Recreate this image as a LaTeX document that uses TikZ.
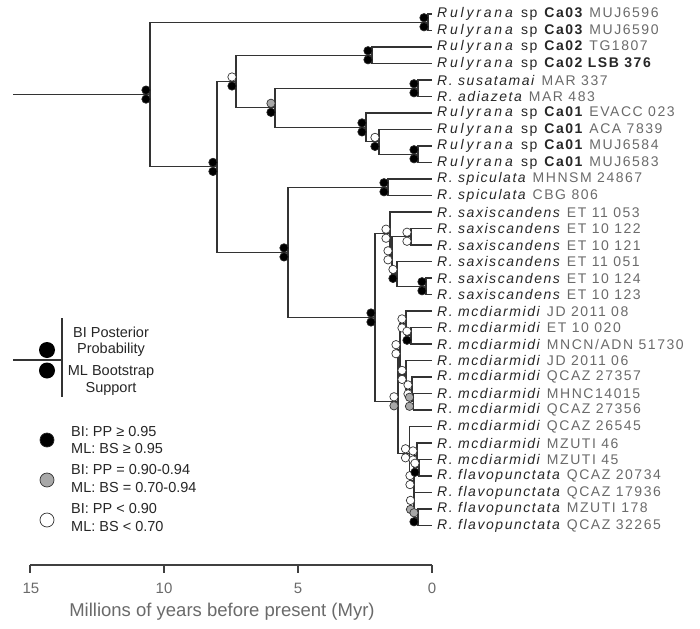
\documentclass[tikz,border=0pt]{standalone}
\usepackage{fontspec}
\setmainfont{Liberation Sans}
\newfontfamily\leaffont[LetterSpace=11]{Liberation Sans}
\definecolor{codegray}{HTML}{6A6A6A}
\definecolor{namecol}{HTML}{262626}
\definecolor{linecol}{HTML}{333333}
\definecolor{supgray}{HTML}{A8A8A8}
\newcommand\spn[1]{\textit{#1}}
\newcommand\genus{\textit{\addfontfeature{LetterSpace=20}Rulyrana}}
\newcommand\leafRu[2]{\genus{} sp \textbf{#1} \textcolor{codegray}{#2}}
\newcommand\leafR[2]{\spn{R. #1} \textcolor{codegray}{#2}}
\newcommand\supnode[4]{%
  \draw[#3] (#1-4,#2-4.5) circle[radius=4.2];
  \draw[#4] (#1-4,#2+4.5) circle[radius=4.2];}
\tikzset{
  br/.style={draw=linecol, line width=1.2pt},
  b/.style={fill=black, draw=black!85, line width=0.7pt},
  g/.style={fill=supgray, draw=linecol, line width=0.7pt},
  w/.style={fill=white, draw=linecol, line width=0.7pt},
  leaf/.style={anchor=west, inner sep=0.5pt, xshift=4.5pt, text=namecol,
    font=\leaffont\fontsize{14}{15}\selectfont},
  legtxt/.style={text=namecol, font=\fontsize{14.5}{17}\selectfont, inner sep=0pt},
  axlab/.style={text=codegray, font=\fontsize{15}{17}\selectfont, inner sep=0pt},
  axline/.style={draw=black!75, line width=1.5pt}
}
\begin{document}
\begin{tikzpicture}[x=1pt,y=-1pt]
\useasboundingbox (0,0) rectangle (700,628);
% leaves
\foreach \i in {1,...,32}{
  \coordinate (L\i) at (432,{14+(\i-1)*16.5});
}
% internal nodes
\coordinate (start) at (13,94.6);
\coordinate (root) at (150,94.6);
\coordinate (ca03) at (428,22.25);
\coordinate (nA) at (217,166.9);
\coordinate (nT2) at (236,81.5);
\coordinate (ca02) at (372,55.25);
\coordinate (nB) at (275,107.8);
\coordinate (susa) at (418,88.25);
\coordinate (ca01) at (366,127.4);
\coordinate (ca01b) at (379,141.9);
\coordinate (muj) at (418,154.25);
\coordinate (nC) at (288,252.4);
\coordinate (spic) at (388,187.25);
\coordinate (nD) at (375,317.5);
\coordinate (s0) at (390,233.7);
\coordinate (s2) at (392,255.3);
\coordinate (s122) at (411,236.75);
\coordinate (s3) at (397,273.9);
\coordinate (s124) at (426,286.25);
\coordinate (m0) at (398,401.3);
\coordinate (m1) at (400,349.2);
\coordinate (m1a) at (406,323.4);
\coordinate (m1d) at (411,335.75);
\coordinate (m1b) at (406,374.9);
\coordinate (m1c) at (412,389.4);
\coordinate (p) at (413.5,401.75);
\coordinate (f0) at (409.5,453.3);
\coordinate (f1) at (414,480.1);
\coordinate (f2) at (417,455.4);
\coordinate (f2b) at (419,467.75);
\coordinate (f3) at (414.5,504.9);
\coordinate (f3b) at (418,517.25);
% branches
\draw[br] (start) -- (root);
\draw[br] (root) |- (ca03);  \draw[br] (root) |- (nA);
\draw[br] (ca03) |- (L1);    \draw[br] (ca03) |- (L2);
\draw[br] (nA) |- (nT2);     \draw[br] (nA) |- (nC);
\draw[br] (nT2) |- (ca02);   \draw[br] (nT2) |- (nB);
\draw[br] (ca02) |- (L3);    \draw[br] (ca02) |- (L4);
\draw[br] (nB) |- (susa);    \draw[br] (nB) |- (ca01);
\draw[br] (susa) |- (L5);    \draw[br] (susa) |- (L6);
\draw[br] (ca01) |- (L7);    \draw[br] (ca01) |- (ca01b);
\draw[br] (ca01b) |- (L8);   \draw[br] (ca01b) |- (muj);
\draw[br] (muj) |- (L9);     \draw[br] (muj) |- (L10);
\draw[br] (nC) |- (spic);    \draw[br] (nC) |- (nD);
\draw[br] (spic) |- (L11);   \draw[br] (spic) |- (L12);
\draw[br] (nD) |- (s0);      \draw[br] (nD) |- (m0);
\draw[br] (s0) |- (L13);     \draw[br] (s0) |- (s2);
\draw[br] (s2) |- (s122);    \draw[br] (s2) |- (s3);
\draw[br] (s122) |- (L14);   \draw[br] (s122) |- (L15);
\draw[br] (s3) |- (L16);     \draw[br] (s3) |- (s124);
\draw[br] (s124) |- (L17);   \draw[br] (s124) |- (L18);
\draw[br] (m0) |- (m1);      \draw[br] (m0) |- (f0);
\draw[br] (m1) |- (m1a);     \draw[br] (m1) |- (m1b);
\draw[br] (m1a) |- (L19);    \draw[br] (m1a) |- (m1d);
\draw[br] (m1d) |- (L20);    \draw[br] (m1d) |- (L21);
\draw[br] (m1b) |- (L22);    \draw[br] (m1b) |- (m1c);
\draw[br] (m1c) |- (L23);    \draw[br] (m1c) |- (p);
\draw[br] (p) |- (L24);      \draw[br] (p) |- (L25);
\draw[br] (f0) |- (L26);     \draw[br] (f0) |- (f1);
\draw[br] (f1) |- (f2);      \draw[br] (f1) |- (f3);
\draw[br] (f2) |- (L27);     \draw[br] (f2) |- (f2b);
\draw[br] (f2b) |- (L28);    \draw[br] (f2b) |- (L29);
\draw[br] (f3) |- (L30);     \draw[br] (f3) |- (f3b);
\draw[br] (f3b) |- (L31);    \draw[br] (f3b) |- (L32);
% support circles
\supnode{150}{94.6}{b}{b}
\supnode{428}{22.25}{b}{b}
\supnode{217}{166.9}{b}{b}
\supnode{236}{81.5}{w}{b}
\supnode{372}{55.25}{b}{b}
\supnode{275}{107.8}{g}{b}
\supnode{418}{88.25}{b}{b}
\supnode{366}{127.4}{b}{b}
\supnode{379}{141.9}{w}{b}
\supnode{418}{154.25}{b}{b}
\supnode{288}{252.4}{b}{b}
\supnode{388}{187.25}{b}{b}
\supnode{375}{317.5}{b}{b}
\supnode{390}{233.7}{w}{w}
\supnode{392}{255.3}{w}{w}
\supnode{411}{236.75}{w}{w}
\supnode{397}{273.9}{w}{b}
\supnode{426}{286.25}{b}{b}
\supnode{398}{401.3}{w}{g}
\supnode{400}{349.2}{w}{w}
\supnode{406}{323.4}{w}{w}
\supnode{411}{335.75}{w}{b}
\supnode{406}{374.9}{w}{w}
\supnode{412}{389.4}{w}{w}
\supnode{413.5}{401.75}{g}{g}
\supnode{409.5}{453.3}{w}{w}
\supnode{414}{480.1}{w}{w}
\supnode{417}{455.4}{w}{w}
\supnode{419}{467.75}{w}{b}
\supnode{414.5}{504.9}{w}{g}
\supnode{418}{517.25}{g}{b}
% leaf labels
\node[leaf] (t1) at (L1) {\leafRu{Ca03}{MUJ6596}};
\node[leaf] (t2) at (L2) {\leafRu{Ca03}{MUJ6590}};
\node[leaf] (t3) at (L3) {\leafRu{Ca02}{TG1807}};
\node[leaf] (t4) at (L4) {\genus{} sp \textbf{Ca02 LSB 376}};
\node[leaf] (t5) at (L5) {\leafR{susatamai}{MAR 337}};
\node[leaf] (t6) at (L6) {\leafR{adiazeta}{MAR 483}};
\node[leaf] (t7) at (L7) {\leafRu{Ca01}{EVACC 023}};
\node[leaf] (t8) at (L8) {\leafRu{Ca01}{ACA 7839}};
\node[leaf] (t9) at (L9) {\leafRu{Ca01}{MUJ6584}};
\node[leaf] (t10) at (L10) {\leafRu{Ca01}{MUJ6583}};
\node[leaf] (t11) at (L11) {\leafR{spiculata}{MHNSM 24867}};
\node[leaf] (t12) at (L12) {\leafR{spiculata}{CBG 806}};
\node[leaf] (t13) at (L13) {\leafR{saxiscandens}{ET 11 053}};
\node[leaf] (t14) at (L14) {\leafR{saxiscandens}{ET 10 122}};
\node[leaf] (t15) at (L15) {\leafR{saxiscandens}{ET 10 121}};
\node[leaf] (t16) at (L16) {\leafR{saxiscandens}{ET 11 051}};
\node[leaf] (t17) at (L17) {\leafR{saxiscandens}{ET 10 124}};
\node[leaf] (t18) at (L18) {\leafR{saxiscandens}{ET 10 123}};
\node[leaf] (t19) at (L19) {\leafR{mcdiarmidi}{JD 2011 08}};
\node[leaf] (t20) at (L20) {\leafR{mcdiarmidi}{ET 10 020}};
\node[leaf] (t21) at (L21) {\leafR{mcdiarmidi}{MNCN/ADN 51730}};
\node[leaf] (t22) at (L22) {\leafR{mcdiarmidi}{JD 2011 06}};
\node[leaf] (t23) at (L23) {\leafR{mcdiarmidi}{QCAZ 27357}};
\node[leaf] (t24) at (L24) {\leafR{mcdiarmidi}{MHNC14015}};
\node[leaf] (t25) at (L25) {\leafR{mcdiarmidi}{QCAZ 27356}};
\node[leaf] (t26) at (L26) {\leafR{mcdiarmidi}{QCAZ 26545}};
\node[leaf] (t27) at (L27) {\leafR{mcdiarmidi}{MZUTI 46}};
\node[leaf] (t28) at (L28) {\leafR{mcdiarmidi}{MZUTI 45}};
\node[leaf] (t29) at (L29) {\leafR{flavopunctata}{QCAZ 20734}};
\node[leaf] (t30) at (L30) {\leafR{flavopunctata}{QCAZ 17936}};
\node[leaf] (t31) at (L31) {\leafR{flavopunctata}{MZUTI 178}};
\node[leaf] (t32) at (L32) {\leafR{flavopunctata}{QCAZ 32265}};
% legend key
\coordinate (kl) at (13,360);
\coordinate (kv) at (62,360);
\coordinate (kvt) at (62,318);
\coordinate (kvb) at (62,397);
\draw[br, line width=1.6pt] (kl) -- (kv);
\draw[br, line width=1.6pt] (kvt) -- (kvb);
\fill[black] (47,350) circle[radius=8];
\fill[black] (47,370.5) circle[radius=8];
\node[legtxt] (k1) at (111,332) {BI Posterior};
\node[legtxt] (k2) at (111,350) {Probability};
\node[legtxt] (k3) at (111,372) {ML Bootstrap};
\node[legtxt] (k4) at (111,389) {Support};
% legend items
\draw[b] (47,440) circle[radius=7];
\draw[g] (47,480) circle[radius=7];
\draw[w] (47,520) circle[radius=7];
\node[legtxt, anchor=west] (i1) at (71,432) {BI: PP \symbol{"2265} 0.95};
\node[legtxt, anchor=west] (i2) at (71,449) {ML: BS \symbol{"2265} 0.95};
\node[legtxt, anchor=west] (i3) at (71,470) {BI: PP = 0.90-0.94};
\node[legtxt, anchor=west] (i4) at (71,488) {ML: BS = 0.70-0.94};
\node[legtxt, anchor=west] (i5) at (71,509) {BI: PP < 0.90};
\node[legtxt, anchor=west] (i6) at (71,527) {ML: BS < 0.70};
% axis
\coordinate (a15) at (30,565);
\coordinate (a10) at (164,565);
\coordinate (a5) at (298,565);
\coordinate (a0) at (432,565);
\draw[axline] (a15) -- (a0);
\foreach \c in {a15,a10,a5,a0}{ \draw[axline] (\c) -- ++(0,8); }
\node[axlab] (x15) at (31,588) {15};
\node[axlab] (x10) at (164,588) {10};
\node[axlab] (x5) at (298,588) {5};
\node[axlab] (x0) at (432,588) {0};
\node[text=codegray, font=\fontsize{18.5}{21}\selectfont, inner sep=0pt] (title) at (222,612) {Millions of years before present (Myr)};
\end{tikzpicture}
\end{document}
